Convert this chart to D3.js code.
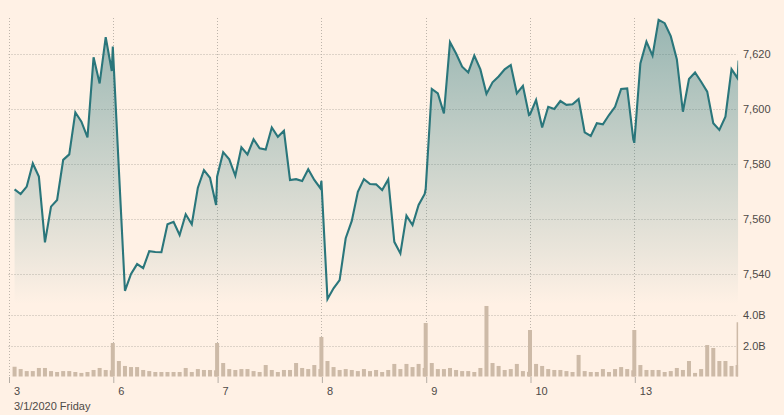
<!DOCTYPE html>
<html>
<head>
<meta charset="utf-8">
<script src="https://cdn.jsdelivr.net/npm/d3@7"></script>
<style>
  html, body { margin: 0; padding: 0; background: #fff1e5; }
  svg { display: block; }
  text { font-family: "Liberation Sans", Arial, sans-serif; }
</style>
</head>
<body>
<svg id="chart" width="784" height="415"></svg>
<script>
// ---------- DATA ----------
const dayLabels = ["3", "6", "7", "8", "9", "10", "13"];
const dateCaption = "3/1/2020 Friday";
// sample times within each trading day (last one = closing auction)
const times = ["08:30","09:00","09:30","10:00","10:30","11:00","11:30","12:00","12:30",
               "13:00","13:30","14:00","14:30","15:00","15:30","16:00","16:30","16:35"];

// index level per day
const price03 = [7570.8,7569.1,7571.8,7580.2,7575.4,7551.5,7564.5,7566.9,7581.5,7583.5,7598.8,7595.4,7589.7,7618.8,7609.3,7626.1,7613.8,7622.7];
const price06 = [7578.0,7533.9,7540.0,7543.6,7542.1,7548.3,7548.0,7547.9,7558.1,7559.0,7554.2,7561.7,7558.1,7571.4,7577.8,7575.0,7565.1,7575.4];
const price07 = [7584.3,7581.7,7575.7,7586.1,7583.5,7589.0,7585.7,7585.3,7593.3,7589.9,7592.1,7574.2,7574.5,7573.8,7578.1,7574.2,7571.2,7573.9];
const price08 = [7530.9,7534.8,7537.8,7553.0,7559.3,7569.9,7574.5,7572.7,7572.6,7570.5,7574.4,7551.7,7547.5,7561.2,7557.8,7565.1,7569.1,7571.0];
const price09 = [7607.3,7605.7,7598.4,7624.3,7620.2,7615.4,7613.3,7619.4,7614.4,7605.5,7609.7,7611.8,7614.4,7616.0,7605.7,7608.4,7597.8,7598.0];
const price10 = [7603.3,7593.3,7600.8,7600.0,7602.9,7601.5,7601.7,7603.6,7591.5,7590.2,7594.8,7594.4,7597.8,7600.8,7607.3,7607.5,7589.0,7587.7];
const price13 = [7616.6,7624.5,7619.4,7632.4,7631.2,7626.5,7618.1,7599.0,7610.9,7613.3,7609.9,7606.3,7594.8,7592.4,7597.2,7614.5,7611.2,7617.6];

// volume (billions) per day
const vol03 = [0.63,0.48,0.35,0.35,0.55,0.55,0.35,0.29,0.35,0.35,0.29,0.23,0.29,0.42,0.55,0.42,0.40,2.16];
const vol06 = [1.00,0.68,0.61,0.61,0.42,0.35,0.29,0.29,0.29,0.29,0.29,0.55,0.29,0.48,0.42,0.42,0.40,2.16];
const vol07 = [0.87,0.48,0.42,0.48,0.48,0.35,0.29,0.74,0.42,0.29,0.42,0.42,0.87,0.55,0.48,0.74,0.48,2.55];
const vol08 = [1.00,0.61,0.42,0.48,0.42,0.35,0.48,0.35,0.42,0.29,0.42,0.81,0.48,0.81,0.61,0.81,0.55,3.45];
const vol09 = [0.87,0.48,0.48,0.55,0.42,0.35,0.35,0.29,0.55,4.55,0.87,0.68,0.42,0.48,0.81,0.35,0.30,3.00];
const vol10 = [0.81,0.68,0.48,0.42,0.42,0.35,0.29,1.39,0.35,0.29,0.29,0.48,0.29,0.48,0.61,0.48,0.40,3.00];
const vol13 = [0.74,0.42,0.42,0.42,0.29,0.35,0.55,0.42,1.00,0.23,0.48,2.03,1.84,1.00,1.00,0.68,0.74,3.50];

const priceTicks = [7540, 7560, 7580, 7600, 7620];
const volumeTicks = [2, 4];

// ---------- BUILD ----------
const prices = [price03, price06, price07, price08, price09, price10, price13];
const vols = [vol03, vol06, vol07, vol08, vol09, vol10, vol13];
const DAY_OPEN = 8 * 60, DAY_LEN = 515; // 08:00 - 16:35
const toMin = t => { const [h, m] = t.split(":").map(Number); return h * 60 + m - DAY_OPEN; };

const rows = [];
prices.forEach((arr, d) => arr.forEach((p, i) => rows.push({
  t: d * DAY_LEN + toMin(times[i]), price: p, vol: vols[d][i], close: i === times.length - 1
})));

const W = 784, H = 415;
const left = 8.5, right = 738.6;
const svg = d3.select("#chart");
svg.append("rect").attr("width", W).attr("height", H).attr("fill", "#fff1e5");

const x = d3.scaleLinear().domain([0, dayLabels.length * DAY_LEN]).range([left, right]);
const y = d3.scaleLinear().domain([7540, 7620]).range([274, 54]);
const yv = d3.scaleLinear().domain([0, 4]).range([376.5, 314.5]);
const areaBottom = 304;

const defs = svg.append("defs");
const grad = defs.append("linearGradient").attr("id", "fillGrad")
  .attr("gradientUnits", "userSpaceOnUse").attr("x1", 0).attr("x2", 0).attr("y1", 30).attr("y2", areaBottom);
grad.append("stop").attr("offset", "0%").attr("stop-color", "#2b777c").attr("stop-opacity", 0.47);
grad.append("stop").attr("offset", "80%").attr("stop-color", "#2b777c").attr("stop-opacity", 0.1);
grad.append("stop").attr("offset", "100%").attr("stop-color", "#2b777c").attr("stop-opacity", 0);
defs.append("clipPath").attr("id", "plotClip").append("rect")
  .attr("x", left).attr("y", 0).attr("width", right - left - 0.5).attr("height", H);

// gridlines
const gridColor = "#bdb4aa";
const gGrid = svg.append("g");
gGrid.selectAll("line.h").data(priceTicks).join("line")
  .attr("x1", left).attr("x2", right - 1).attr("y1", d => Math.round(y(d)) + 0.5).attr("y2", d => Math.round(y(d)) + 0.5)
  .attr("stroke", gridColor).attr("stroke-dasharray", "1,2");
gGrid.selectAll("line.v").data(volumeTicks).join("line")
  .attr("x1", left).attr("x2", right - 1).attr("y1", d => Math.round(yv(d)) + 0.5).attr("y2", d => Math.round(yv(d)) + 0.5)
  .attr("stroke", gridColor).attr("stroke-dasharray", "1,2");
const dayStarts = dayLabels.map((_, i) => i * DAY_LEN);
gGrid.selectAll("line.d").data(dayStarts).join("line")
  .attr("x1", d => Math.round(x(d)) + 0.5).attr("x2", d => Math.round(x(d)) + 0.5)
  .attr("y1", 18).attr("y2", 377)
  .attr("stroke", gridColor).attr("stroke-dasharray", "1,2");

// area + line
const plot = svg.append("g").attr("clip-path", "url(#plotClip)");
plot.append("path").datum(rows)
  .attr("d", d3.area().x(d => x(d.t)).y0(areaBottom).y1(d => y(d.price)))
  .attr("fill", "url(#fillGrad)");

// volume bars (close auction drawn last)
const ordered = rows.filter(r => !r.close).concat(rows.filter(r => r.close));
plot.selectAll("rect.bar").data(ordered).join("rect")
  .attr("x", d => x(d.t) - 2).attr("width", 4)
  .attr("y", d => yv(d.vol)).attr("height", d => yv(0) - yv(d.vol))
  .attr("fill", "#cdbaa7");

plot.append("path").datum(rows)
  .attr("d", d3.line().x(d => x(d.t)).y(d => y(d.price)))
  .attr("fill", "none").attr("stroke", "#2a767b").attr("stroke-width", 2.1)
  .attr("stroke-linejoin", "miter");

// x axis
const xAxis = d3.axisBottom(x).tickValues(dayStarts).tickFormat((d, i) => dayLabels[i])
  .tickSize(6).tickSizeOuter(0).tickPadding(3);
const gx = svg.append("g").attr("transform", "translate(0,377)").call(xAxis);
gx.select(".domain").remove();
gx.selectAll(".tick line").attr("stroke", "#b5ada4").attr("transform", "translate(0.5,0)");
gx.selectAll(".tick text").attr("text-anchor", "start").attr("x", 5).attr("dy", "0.71em")
  .attr("y", 10).attr("font-size", 11).attr("fill", "#4e4a47");

svg.append("text").attr("x", 14).attr("y", 410).attr("font-size", 11).attr("fill", "#4e4a47").text(dateCaption);

// right axes
const yAxis = d3.axisRight(y).tickValues(priceTicks).tickFormat(d3.format(",")).tickSize(0).tickPadding(0);
const gy = svg.append("g").attr("transform", "translate(743,0)").call(yAxis);
gy.select(".domain").remove();
gy.selectAll(".tick text").attr("font-size", 11).attr("fill", "#4e4a47");

const yvAxis = d3.axisRight(yv).tickValues(volumeTicks).tickFormat(d => d.toFixed(1) + "B").tickSize(0).tickPadding(0);
const gyv = svg.append("g").attr("transform", "translate(743,0)").call(yvAxis);
gyv.select(".domain").remove();
gyv.selectAll(".tick text").attr("font-size", 11).attr("fill", "#4e4a47");
</script>
</body>
</html>
